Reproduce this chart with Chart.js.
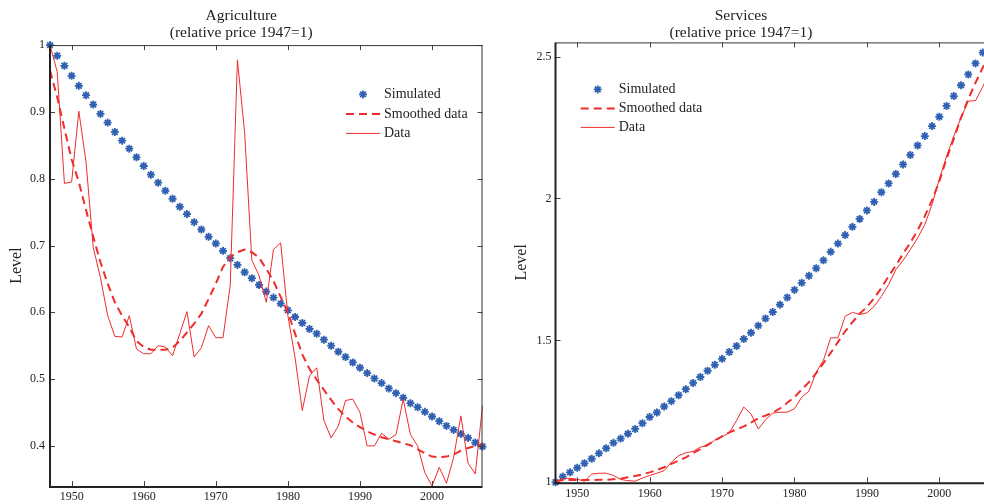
<!DOCTYPE html>
<html>
<head>
<meta charset="utf-8">
<title>Relative prices: agriculture and services</title>
<script src="https://cdn.jsdelivr.net/npm/chart.js@4.4.1/dist/chart.umd.min.js"></script>
<style>
  html, body { margin: 0; padding: 0; background: #fff; }
  body { width: 984px; height: 504px; overflow: hidden; position: relative; }
  canvas { position: absolute; top: 0; }
  #agri { left: 0; }
  #serv { left: 492px; }
</style>
</head>
<body>
<canvas id="agri" width="492" height="504"></canvas>
<canvas id="serv" width="591" height="504"></canvas>
<script>
const years = [
  1947, 1948, 1949, 1950, 1951, 1952, 1953, 1954, 1955, 1956,
  1957, 1958, 1959, 1960, 1961, 1962, 1963, 1964, 1965, 1966,
  1967, 1968, 1969, 1970, 1971, 1972, 1973, 1974, 1975, 1976,
  1977, 1978, 1979, 1980, 1981, 1982, 1983, 1984, 1985, 1986,
  1987, 1988, 1989, 1990, 1991, 1992, 1993, 1994, 1995, 1996,
  1997, 1998, 1999, 2000, 2001, 2002, 2003, 2004, 2005, 2006,
  2007,
];

const seriesNames = ["Simulated", "Smoothed data", "Data"];

// Agriculture, relative price (1947 = 1)
const agriSimulated = [
  1.000, 0.984, 0.969, 0.954, 0.939, 0.925, 0.911, 0.897, 0.884, 0.870,
  0.857, 0.845, 0.832, 0.819, 0.806, 0.794, 0.782, 0.770, 0.758, 0.747,
  0.735, 0.724, 0.713, 0.703, 0.692, 0.681, 0.671, 0.660, 0.651, 0.641,
  0.631, 0.622, 0.613, 0.603, 0.593, 0.584, 0.575, 0.568, 0.559, 0.550,
  0.541, 0.533, 0.525, 0.517, 0.509, 0.501, 0.494, 0.486, 0.479, 0.472,
  0.464, 0.458, 0.451, 0.444, 0.437, 0.430, 0.424, 0.418, 0.412, 0.405,
  0.399,
];
const agriSmoothed = [
  0.962, 0.922, 0.875, 0.829, 0.795, 0.753, 0.713, 0.675, 0.643, 0.615,
  0.595, 0.578, 0.557, 0.548, 0.544, 0.544, 0.544, 0.547, 0.557, 0.570,
  0.583, 0.598, 0.620, 0.643, 0.668, 0.683, 0.690, 0.694, 0.690, 0.682,
  0.665, 0.647, 0.623, 0.600, 0.568, 0.537, 0.515, 0.499, 0.484, 0.469,
  0.455, 0.444, 0.435, 0.428, 0.422, 0.417, 0.413, 0.410, 0.407, 0.404,
  0.401, 0.395, 0.389, 0.384, 0.383, 0.384, 0.387, 0.393, 0.397, 0.400,
  0.402,
];
const agriData = [
  1.000, 0.960, 0.793, 0.795, 0.901, 0.825, 0.697, 0.652, 0.595, 0.564,
  0.563, 0.595, 0.545, 0.538, 0.538, 0.550, 0.548, 0.535, 0.568, 0.601,
  0.533, 0.547, 0.580, 0.562, 0.562, 0.640, 0.978, 0.869, 0.678, 0.655,
  0.615, 0.694, 0.704, 0.595, 0.532, 0.453, 0.505, 0.517, 0.438, 0.412,
  0.430, 0.468, 0.470, 0.450, 0.400, 0.400, 0.419, 0.410, 0.417, 0.470,
  0.417, 0.400, 0.360, 0.340, 0.368, 0.344, 0.383, 0.445, 0.374, 0.358,
  0.460,
];

// Services, relative price (1947 = 1)
const servSimulated = [
  1.000, 1.020, 1.035, 1.051, 1.067, 1.083, 1.102, 1.120, 1.139, 1.154,
  1.171, 1.188, 1.208, 1.230, 1.246, 1.267, 1.286, 1.307, 1.328, 1.350,
  1.371, 1.393, 1.414, 1.435, 1.459, 1.480, 1.505, 1.527, 1.552, 1.577,
  1.600, 1.626, 1.651, 1.678, 1.703, 1.728, 1.754, 1.782, 1.812, 1.841,
  1.871, 1.900, 1.928, 1.958, 1.988, 2.022, 2.053, 2.086, 2.120, 2.153,
  2.187, 2.220, 2.255, 2.288, 2.326, 2.361, 2.399, 2.437, 2.476, 2.514,
  2.550,
];
const servSmoothed = [
  1.005, 1.007, 1.008, 1.008, 1.008, 1.008, 1.009, 1.009, 1.011, 1.013,
  1.018, 1.022, 1.028, 1.035, 1.043, 1.053, 1.065, 1.076, 1.088, 1.103,
  1.117, 1.132, 1.147, 1.162, 1.176, 1.186, 1.197, 1.210, 1.226, 1.235,
  1.246, 1.260, 1.280, 1.300, 1.327, 1.353, 1.385, 1.420, 1.456, 1.494,
  1.532, 1.564, 1.594, 1.618, 1.649, 1.685, 1.726, 1.764, 1.806, 1.844,
  1.888, 1.938, 1.994, 2.061, 2.140, 2.211, 2.285, 2.350, 2.408, 2.461,
  2.510,
];
const servData = [
  1.000, 1.013, 1.014, 1.011, 1.004, 1.029, 1.032, 1.032, 1.024, 1.010,
  1.006, 1.004, 1.015, 1.024, 1.032, 1.041, 1.071, 1.094, 1.104, 1.109,
  1.124, 1.129, 1.149, 1.161, 1.174, 1.218, 1.265, 1.241, 1.188, 1.220,
  1.244, 1.247, 1.247, 1.259, 1.300, 1.321, 1.388, 1.430, 1.509, 1.509,
  1.585, 1.599, 1.591, 1.597, 1.620, 1.655, 1.697, 1.749, 1.782, 1.820,
  1.861, 1.908, 1.979, 2.067, 2.149, 2.220, 2.285, 2.343, 2.345, 2.394,
  2.450,
];

const yearTicks = [1950, 1960, 1970, 1980, 1990, 2000];
const agriLevelTicks = [0.4, 0.5, 0.6, 0.7, 0.8, 0.9, 1];
const servLevelTicks = [1, 1.5, 2, 2.5];

const SERIF = '"Liberation Serif", "Times New Roman", serif';
const BLUE = "#2f60b2";
const RED = "#ee2c2c";
const INK = "#222";

Chart.defaults.font.family = SERIF;

// Box around the plot area with short inward tick marks on all four sides
const frameTicks = {
  id: "frameTicks",
  afterDraw(chart) {
    const { ctx, chartArea: a, scales: { x, y } } = chart;
    const len = 5;
    ctx.save();
    ctx.strokeStyle = "#444";
    ctx.lineWidth = 1;
    ctx.beginPath();
    for (const t of x.ticks) {
      const px = Math.round(x.getPixelForValue(t.value)) + 0.5;
      ctx.moveTo(px, a.bottom); ctx.lineTo(px, a.bottom - len);
      ctx.moveTo(px, a.top); ctx.lineTo(px, a.top + len);
    }
    for (const t of y.ticks) {
      const py = Math.round(y.getPixelForValue(t.value)) + 0.5;
      ctx.moveTo(a.left, py); ctx.lineTo(a.left + len, py);
      ctx.moveTo(a.right, py); ctx.lineTo(a.right - len, py);
    }
    ctx.stroke();

    ctx.strokeStyle = "#333";
    ctx.beginPath();
    ctx.moveTo(a.left, a.top + 0.5); ctx.lineTo(a.right, a.top + 0.5);
    ctx.moveTo(a.right - 0.5, a.top); ctx.lineTo(a.right - 0.5, a.bottom);
    ctx.stroke();

    ctx.strokeStyle = "#222";
    ctx.lineWidth = 2;
    ctx.beginPath();
    ctx.moveTo(a.left, a.top); ctx.lineTo(a.left, a.bottom + 1);
    ctx.lineTo(a.right, a.bottom + 1);
    ctx.stroke();
    ctx.restore();
  },
};

// Legend drawn inside the plot area, positioned from the chart area's corner
const insetLegend = {
  id: "insetLegend",
  afterDraw(chart, args, opts) {
    const { ctx, chartArea: a } = chart;
    const x0 = a.left + opts.x;
    const sample = 34;
    ctx.save();
    ctx.font = `14px ${SERIF}`;
    ctx.textBaseline = "middle";
    ctx.textAlign = "left";
    chart.data.datasets.forEach((ds, i) => {
      const y = a.top + opts.y + i * opts.row;
      if (ds.showLine === false) {
        ctx.strokeStyle = ds.pointBorderColor;
        ctx.fillStyle = ds.pointBackgroundColor;
        ctx.lineWidth = ds.pointBorderWidth;
        Chart.helpers.drawPoint(ctx, {
          pointStyle: ds.pointStyle,
          radius: ds.pointRadius,
          borderWidth: ds.pointBorderWidth,
          rotation: 0,
        }, x0 + sample / 2, y);
      } else {
        ctx.strokeStyle = ds.borderColor;
        ctx.lineWidth = ds.borderWidth;
        ctx.setLineDash(ds.borderDash || []);
        ctx.beginPath();
        ctx.moveTo(x0, y);
        ctx.lineTo(x0 + sample, y);
        ctx.stroke();
        ctx.setLineDash([]);
      }
      ctx.fillStyle = INK;
      ctx.fillText(ds.label, x0 + sample + 4, y);
    });
    ctx.restore();
  },
};

function pairs(values) {
  return years.map((yr, i) => ({ x: yr, y: values[i] }));
}

function makePanel(canvasId, p) {
  const canvas = document.getElementById(canvasId);
  return new Chart(canvas, {
    type: "line",
    data: {
      datasets: [
        {
          label: seriesNames[0],
          data: pairs(p.simulated),
          showLine: false,
          pointStyle: "star",
          pointRadius: 4,
          pointBorderWidth: 1.8,
          pointBorderColor: BLUE,
          pointBackgroundColor: BLUE,
          borderColor: BLUE,
          clip: false,
          order: 2,
        },
        {
          label: seriesNames[1],
          data: pairs(p.smoothed),
          borderColor: RED,
          borderWidth: 2,
          borderDash: [8, 5],
          pointRadius: 0,
          tension: 0,
          clip: false,
          order: 1,
        },
        {
          label: seriesNames[2],
          data: pairs(p.data),
          borderColor: RED,
          borderWidth: 1,
          pointRadius: 0,
          tension: 0,
          clip: false,
          order: 0,
        },
      ],
    },
    options: {
      responsive: false,
      animation: false,
      devicePixelRatio: 1,
      events: [],
      layout: { padding: p.padding },
      plugins: {
        legend: { display: false },
        tooltip: { enabled: false },
        title: {
          display: true,
          text: p.title,
          color: INK,
          font: { family: SERIF, size: 15.5, weight: "normal", lineHeight: 1.1 },
          padding: p.titlePadding,
        },
        insetLegend: p.legend,
      },
      scales: {
        x: {
          type: "linear",
          min: 1947,
          max: 2007,
          afterBuildTicks: (s) => { s.ticks = yearTicks.map((v) => ({ value: v })); },
          afterFit: (s) => { s.height = p.xHeight; },
          grid: { display: false, drawTicks: false },
          border: { display: false },
          ticks: { color: INK, font: { size: 12 }, padding: 4, callback: (v) => String(v) },
        },
        y: {
          min: p.yMin,
          max: p.yMax,
          afterBuildTicks: (s) => { s.ticks = p.yTicks.map((v) => ({ value: v })); },
          afterFit: (s) => { s.width = p.yWidth; },
          grid: { display: false, drawTicks: false },
          border: { display: false },
          ticks: { color: INK, font: { size: 12 }, padding: p.yTickPad, callback: (v) => String(v) },
          title: {
            display: true,
            text: "Level",
            color: INK,
            font: { size: 16 },
            padding: { top: p.yTitlePad, bottom: 0 },
          },
        },
      },
    },
    plugins: [frameTicks, insetLegend],
  });
}

makePanel("agri", {
  title: ["Agriculture", "(relative price 1947=1)"],
  simulated: agriSimulated,
  smoothed: agriSmoothed,
  data: agriData,
  yMin: 0.34,
  yMax: 1,
  yTicks: agriLevelTicks,
  padding: { left: 0, right: 9.5, top: 0, bottom: 0 },
  titlePadding: { top: 7, bottom: 4 },
  xHeight: 18,
  yWidth: 50,
  yTickPad: 5,
  yTitlePad: 7,
  legend: { x: 296, y: 49.3, row: 19.5 },
});

makePanel("serv", {
  title: ["Services", "(relative price 1947=1)"],
  simulated: servSimulated,
  smoothed: servSmoothed,
  data: servData,
  yMin: 1,
  yMax: 2.55,
  yTicks: servLevelTicks,
  padding: { left: 0, right: 93, top: 0, bottom: 0 },
  titlePadding: { top: 7, bottom: 1.3 },
  xHeight: 21.7,
  yWidth: 63.5,
  yTickPad: 4,
  yTitlePad: 20,
  legend: { x: 25.2, y: 47, row: 19 },
});
</script>
</body>
</html>
